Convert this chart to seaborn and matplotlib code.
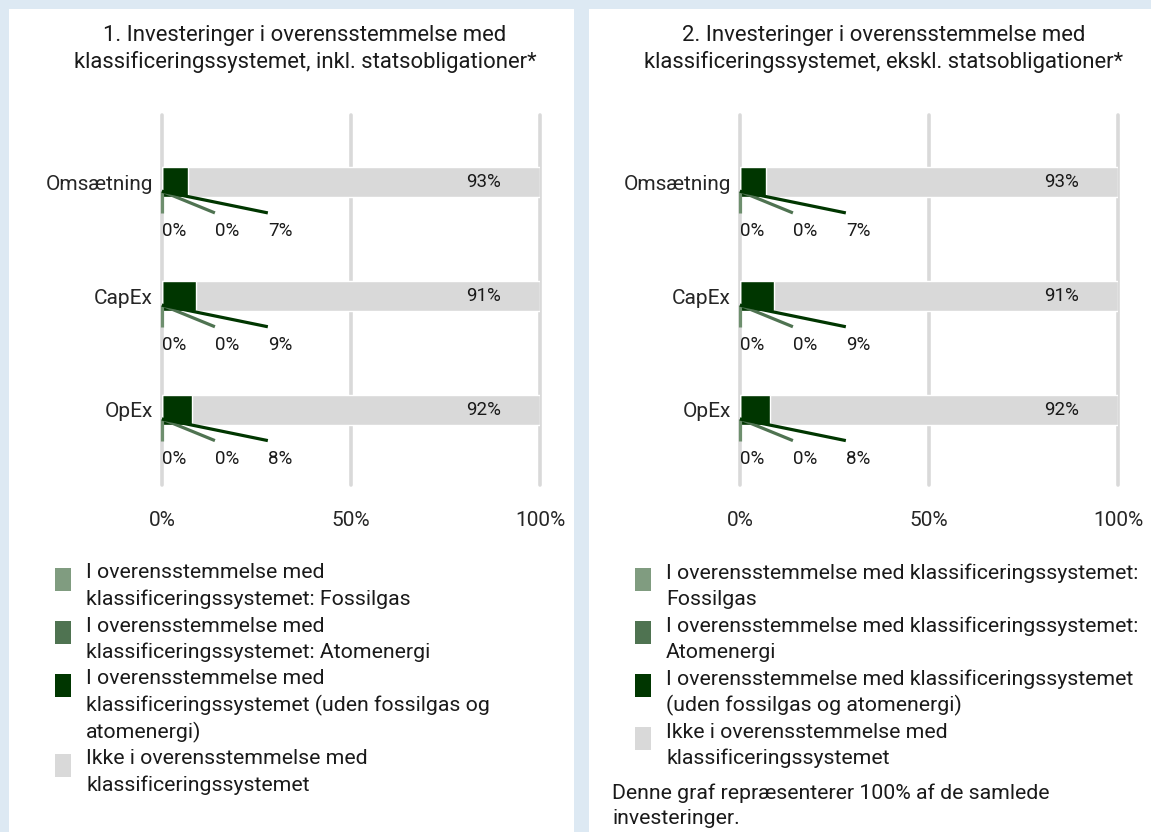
import matplotlib.pyplot as plt
import seaborn as sns
from matplotlib.patches import Rectangle

# %% data
categories = ["Omsætning", "CapEx", "OpEx"]

fossil_inkl = [0, 0, 0]
atom_inkl = [0, 0, 0]
uden_inkl = [7, 9, 8]
ikke_inkl = [93, 91, 92]

fossil_ekskl = [0, 0, 0]
atom_ekskl = [0, 0, 0]
uden_ekskl = [7, 9, 8]
ikke_ekskl = [93, 91, 92]

xticks = [0, 50, 100]
xtick_labels = ["0%", "50%", "100%"]

title_inkl = "1. Investeringer i overensstemmelse med\nklassificeringssystemet, inkl. statsobligationer*"
title_ekskl = "2. Investeringer i overensstemmelse med\nklassificeringssystemet, ekskl. statsobligationer*"

legend_inkl = [
    "I overensstemmelse med\nklassificeringssystemet: Fossilgas",
    "I overensstemmelse med\nklassificeringssystemet: Atomenergi",
    "I overensstemmelse med\nklassificeringssystemet (uden fossilgas og\natomenergi)",
    "Ikke i overensstemmelse med\nklassificeringssystemet",
]
legend_ekskl = [
    "I overensstemmelse med klassificeringssystemet:\nFossilgas",
    "I overensstemmelse med klassificeringssystemet:\nAtomenergi",
    "I overensstemmelse med klassificeringssystemet\n(uden fossilgas og atomenergi)",
    "Ikke i overensstemmelse med\nklassificeringssystemet",
]
note_ekskl = "Denne graf repræsenterer 100% af de samlede\ninvesteringer."

# %% style
c_fossil = "#809c80"
c_atom = "#4f7351"
c_uden = "#003600"
c_ikke = "#d9d9d9"
c_line_fossil = "#6e8f6e"
colors = [c_fossil, c_atom, c_uden, c_ikke]

sns.set_theme(style="white")
plt.rcParams["font.family"] = ["Roboto", "DejaVu Sans"]
plt.rcParams["text.color"] = "#1a1a1a"

W, H = 1151, 832
fig = plt.figure(figsize=(W / 100, H / 100), dpi=100)
fig.patch.set_facecolor("#dde9f3")


def fx(px):
    return px / W


def fy(py):
    return 1 - py / H


# white panels
fig.patches.append(Rectangle((fx(9), 0), fx(574) - fx(9), fy(9), transform=fig.transFigure,
                             facecolor="white", edgecolor="none", zorder=-5))
fig.patches.append(Rectangle((fx(589), 0), fx(1151) - fx(589), fy(9), transform=fig.transFigure,
                             facecolor="white", edgecolor="none", zorder=-5))


def draw_panel(x0, fossil, atom, uden, ikke, title, title_cx):
    ax = fig.add_axes([fx(x0), fy(485), fx(378), fy(115) - fy(485)])
    ax.set_facecolor("none")
    s1 = fossil
    s2 = [a + b for a, b in zip(s1, atom)]
    s3 = [a + b for a, b in zip(s2, uden)]
    s4 = [a + b for a, b in zip(s3, ikke)]
    for vals, col in zip([s4, s3, s2, s1], [c_ikke, c_uden, c_atom, c_fossil]):
        sns.barplot(x=vals, y=categories, orient="h", color=col, width=0.265,
                    saturation=1, ax=ax, zorder=3)

    # value labels and leader lines
    label_x = [0, 14, 28]
    line_cols = [c_line_fossil, c_atom, c_uden]
    for i in range(len(categories)):
        ax.text(s4[i] - 10.3, i, f"{ikke[i]}%", ha="right", va="center", fontsize=13.5, zorder=5)
        for j, v in enumerate([fossil[i], atom[i], uden[i]]):
            ax.plot([0, label_x[j]], [i + 0.08, i + 0.27], color=line_cols[j],
                    lw=2.3, solid_capstyle="butt", zorder=4, clip_on=False)
            ax.text(label_x[j], i + 0.43, f"{v}%", ha="left", va="center", fontsize=13.5, zorder=5)

    ax.set_xlim(0, 100)
    ax.set_ylim(2.66, -0.59)
    ax.set_xticks(xticks)
    ax.set_xticklabels(xtick_labels, fontsize=15)
    ax.tick_params(axis="x", length=0, pad=19)
    ax.tick_params(axis="y", length=0, pad=6.5, labelsize=15)
    ax.set_xlabel("")
    ax.set_ylabel("")
    ax.grid(axis="x", color=c_ikke, linewidth=2.6)
    for gl in ax.get_xgridlines():
        gl.set_clip_on(False)
    ax.set_axisbelow(True)
    sns.despine(ax=ax, left=True, bottom=True)
    for k, ln in enumerate(title.split("\n")):
        fig.text(fx(title_cx), fy(36 + 26 * k), ln, ha="center", va="center", fontsize=15.9)
    return ax


def draw_legend(sq_x, txt_x, labels):
    y = 573
    for lab, col in zip(labels, colors):
        lines = lab.split("\n")
        fig.patches.append(Rectangle((fx(sq_x), fy(y + 18)), fx(16), fy(y - 5) - fy(y + 18),
                                     transform=fig.transFigure, facecolor=col, edgecolor="none"))
        for ln in lines:
            fig.text(fx(txt_x), fy(y), ln, ha="left", va="center", fontsize=15.3)
            y += 26.5
    return y


draw_panel(162, fossil_inkl, atom_inkl, uden_inkl, ikke_inkl, title_inkl, 305)
draw_panel(740, fossil_ekskl, atom_ekskl, uden_ekskl, ikke_ekskl, title_ekskl, 884)

draw_legend(55, 86, legend_inkl)
draw_legend(635, 666, legend_ekskl)

note_lines = note_ekskl.split("\n")
fig.text(fx(612), fy(793), note_lines[0], ha="left", va="center", fontsize=15.3)
fig.text(fx(612), fy(818), note_lines[1], ha="left", va="center", fontsize=15.3)

plt.savefig("out.png", dpi=100, facecolor=fig.get_facecolor())
